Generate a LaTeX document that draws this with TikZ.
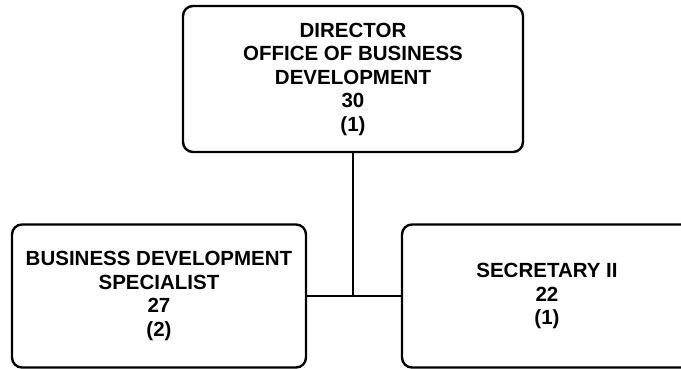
\documentclass[tikz,border=0pt]{standalone}
\usepackage{fontspec}
\setmainfont{Liberation Sans}
\usetikzlibrary{positioning}
\tikzset{
  %% position box
  posbox/.style={rectangle,rounded corners=10pt,draw=black,line width=2.4pt,
    fill=white,font=\bfseries\fontsize{20.5}{23.5}\selectfont,align=center,
    inner sep=0pt},
  %% reporting line
  link/.style={line width=1.3pt,draw=black},
}

\begin{document}
\begin{tikzpicture}[x=1pt,y=1pt]

  %% page frame
  \useasboundingbox (0,0) rectangle (681,368);
  \clip (0,0) rectangle (681,368);

  %% positions
  \node[posbox,minimum width=340pt,minimum height=146pt] (dir) at (353,289)
    {DIRECTOR\\OFFICE OF BUSINESS\\DEVELOPMENT\\30\\(1)};
  \node[posbox,minimum width=294pt,minimum height=143pt] (spec) at (159,72)
    {BUSINESS DEVELOPMENT\\SPECIALIST\\27\\(2)};
  \node[posbox,minimum width=290pt,minimum height=143pt] (sec) at (547,72)
    {SECRETARY II\\22\\(1)};

  %% ── lines ──────────────────────────────────────────────
  \draw[link] (spec.east) -- (sec.west);
  \draw[link] (dir.south) -- (dir.south |- spec.east);

\end{tikzpicture}
\end{document}
